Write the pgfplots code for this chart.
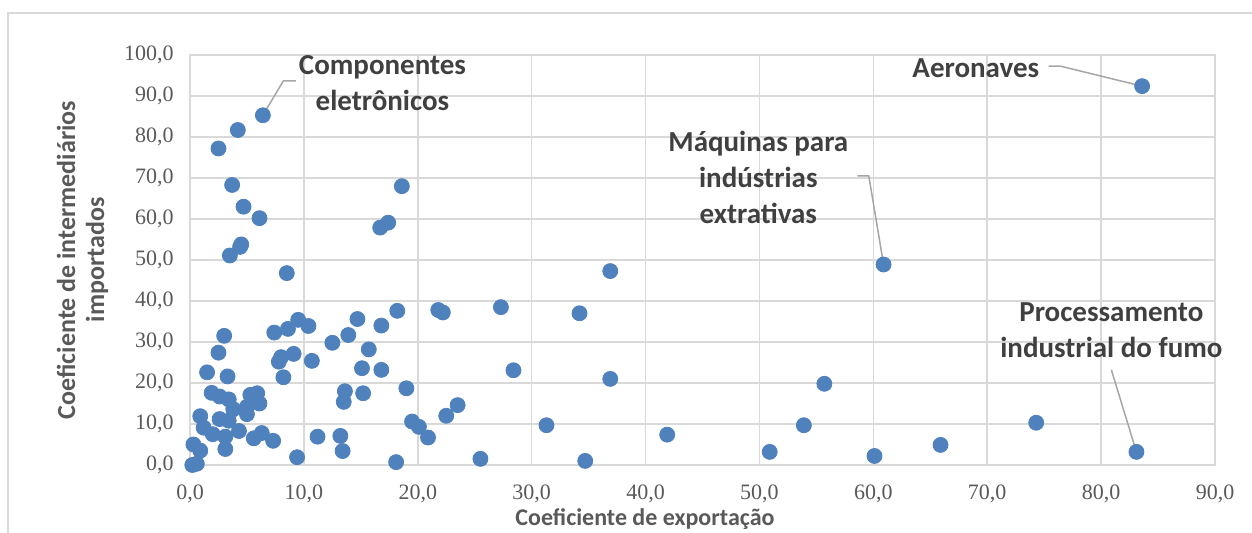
\documentclass[border=0pt]{standalone}
\usepackage{pgfplots}
\pgfplotsset{compat=1.18}
\usepackage{fontspec}
\setmainfont{Carlito}
\newfontfamily\tickfont{Liberation Serif}
\definecolor{gridgray}{HTML}{D9D9D9}
\definecolor{dotblue}{HTML}{4F81BD}
\definecolor{labelgray}{HTML}{404040}
\definecolor{titlegray}{HTML}{595959}
\definecolor{tickgray}{HTML}{595959}
\definecolor{leader}{HTML}{A6A6A6}
\begin{document}
\begin{tikzpicture}
\useasboundingbox (0,0) rectangle (626pt,266.5pt);
\draw[gridgray, line width=0.75pt] (4pt,-20pt) rectangle (700pt,260pt);
\begin{axis}[
  at={(95pt,34pt)}, anchor=south west,
  scale only axis, width=512.5pt, height=205pt,
  xmin=0, xmax=90, ymin=0, ymax=100,
  xtick={0,10,...,90}, ytick={0,10,...,100},
  grid=major, major grid style={gridgray, line width=0.75pt},
  axis line style={gridgray, line width=0.75pt},
  major tick length=0pt,
  tick label style={font=\fontsize{11}{13}\tickfont, text=tickgray},
  /pgf/number format/fixed,
  /pgf/number format/fixed zerofill,
  /pgf/number format/precision=1,
  /pgf/number format/use comma,
  /pgf/number format/assume math mode=true,
  xticklabel style={anchor=north, inner sep=0pt, yshift=-9.5pt},
  yticklabel style={anchor=east, inner sep=0pt, xshift=-8pt},
  clip=false,
]
\addplot[only marks, mark=*, mark size=3.75pt, mark options={fill=dotblue, draw=dotblue}] coordinates {
(83.6,92.4) (60.9,48.9) (83.1,3.2) (6.4,85.3) (60.1,2.2) (65.9,4.9) (74.3,10.3)
(36.9,47.3) (27.3,38.5) (34.2,37.0) (28.4,23.1) (36.9,21.0) (23.5,14.6) (31.3,9.7)
(41.9,7.4) (25.5,1.5) (34.7,1.0) (50.9,3.2) (53.9,9.7) (55.7,19.8)
(4.2,81.7) (2.5,77.2) (3.7,68.3) (4.7,63.0) (6.1,60.2) (4.5,53.8) (4.4,53.2)
(3.5,51.1) (8.5,46.8) (18.6,68.0) (17.4,59.1) (16.7,57.9)
(18.2,37.6) (21.8,37.8) (22.2,37.2) (14.7,35.6) (9.5,35.4) (10.4,33.9) (8.6,33.2)
(7.4,32.3) (16.8,34.0) (13.9,31.7) (12.5,29.8) (3.0,31.5) (2.5,27.4) (15.7,28.2)
(9.1,27.1) (8.0,26.3) (7.8,25.2) (10.7,25.4) (1.5,22.6) (3.3,21.6) (8.2,21.4)
(15.1,23.6) (16.8,23.2) (1.9,17.6) (2.6,16.7) (3.4,16.0) (5.3,17.1) (5.9,17.5)
(5.7,15.4) (6.1,15.0) (13.6,18.0) (13.5,15.4) (15.2,17.5) (19.0,18.7)
(3.8,13.6) (5.0,12.4) (5.0,14.2) (0.9,11.9) (2.6,11.2) (3.4,10.8) (1.2,9.1)
(2.0,7.5) (3.1,6.9) (3.1,3.9) (4.3,8.3) (5.6,6.5) (6.3,7.8) (7.3,5.9)
(11.2,6.9) (13.2,7.1) (13.4,3.4) (9.4,1.9) (18.1,0.7) (0.3,5.0) (0.9,3.5)
(0.2,0.0) (0.6,0.3) (19.5,10.6) (20.1,9.3) (20.9,6.7) (22.5,12.0)
};
% leader lines
\draw[leader, line width=0.75pt] (axis cs:6.4,85.3) -- (axis cs:8.2,93.7) -- (axis cs:9.3,93.7);
\draw[leader, line width=0.75pt] (axis cs:75.4,97.3) -- (axis cs:76.4,97.3) -- (axis cs:83.6,92.4);
\draw[leader, line width=0.75pt] (axis cs:58.6,70.5) -- (axis cs:59.6,70.5) -- (axis cs:60.9,48.9);
\draw[leader, line width=0.75pt] (axis cs:80.9,23.2) -- (axis cs:83.1,3.2);
% data labels
\begin{scope}[every node/.style={align=center, text=labelgray, font=\fontsize{14.5}{18}\selectfont\bfseries, inner sep=0pt}]
\node at (axis cs:16.9,93.2) {Componentes\\eletrônicos};
\node at (axis cs:69.0,96.8) {Aeronaves};
\node at (axis cs:49.9,70.2) {Máquinas para\\indústrias\\extrativas};
\node at (axis cs:80.9,32.8) {Processamento\\industrial do fumo};
\end{scope}
\end{axis}
\node[anchor=base, text=titlegray, font=\fontsize{12}{14}\selectfont\bfseries, inner sep=0pt] at (322.5pt,3.5pt) {Coeficiente de exportação};
\node[rotate=90, align=center, text=titlegray, font=\fontsize{13}{14.5}\selectfont\bfseries, inner sep=0pt] at (41.25pt,136.5pt) {Coeficiente de intermediários\\importados};
\end{tikzpicture}
\end{document}
